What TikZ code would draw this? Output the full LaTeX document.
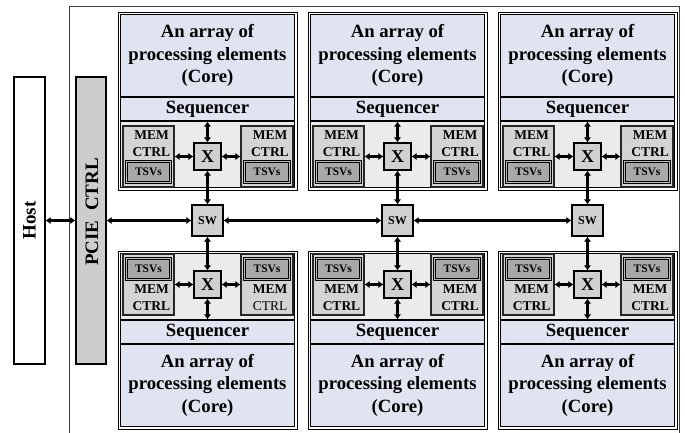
\documentclass[tikz,border=0pt]{standalone}
\usepackage{fontspec}
\setmainfont{Liberation Serif}
\usetikzlibrary{arrows.meta}
\definecolor{tilebg}{HTML}{EBEBEB}
\definecolor{coreblue}{HTML}{DFE4F0}
\definecolor{memgray}{HTML}{D4D4D4}
\definecolor{tsvgray}{HTML}{A8A8A8}
\definecolor{boxgray}{HTML}{D0D0D0}
\definecolor{pciegray}{HTML}{CDCDCD}
\tikzset{
  corebox/.style={draw=black, line width=1.2pt, fill=coreblue, minimum width=174pt,
    inner sep=0pt, align=center, font=\fontsize{18.7}{22.5}\selectfont\bfseries},
  membox/.style={draw=black!85, line width=1.1pt, fill=memgray, minimum height=61pt, inner sep=0pt},
  tsvbox/.style={draw=black, line width=0.8pt, double=gray!55, double distance=0.9pt, fill=tsvgray,
    minimum height=21pt, inner sep=0pt, font=\fontsize{11.5}{13}\selectfont\bfseries},
  memtext/.style={inner sep=0pt, align=center, font=\fontsize{13.5}{16.7}\selectfont\bfseries},
  xbox/.style={draw=black, line width=1.2pt, fill=boxgray, minimum size=27pt, inner sep=0pt,
    font=\fontsize{18}{20}\selectfont\bfseries},
  swbox/.style={draw=black, line width=1.2pt, fill=boxgray, minimum size=31pt, inner sep=0pt,
    font=\fontsize{12}{14}\selectfont\bfseries},
  sidebox/.style={draw=black, line width=1.2pt, minimum width=31pt, minimum height=287pt, inner sep=0pt},
  sidetext/.style={rotate=90, inner sep=0pt, font=\fontsize{19}{21}\selectfont\bfseries},
  bus/.style={line width=3pt, {Latex[length=5pt,width=7.5pt]}-{Latex[length=5pt,width=7.5pt]}}
}
\newcommand{\tilebody}[2]{%
  \draw[line width=0.7pt] (118,12) rectangle (297,190);
  \draw[line width=1.4pt, fill=tilebg] (120.5,14.5) rectangle (294.5,187.5);
  \node[corebox, minimum height=82.5pt] (core#1) at (207.5,55.75) {An array of\\processing elements\\(Core)};
  \node[corebox, minimum height=24pt] (seq#1) at (207.5,109) {Sequencer};
  \node[membox, minimum width=51pt] (ml#1) at (148.5,156.5) {};
  \node[tsvbox, minimum width=44pt] (tl#1) at (148.5,172) {TSVs};
  \node[memtext] (mlt#1) at (151.5,143.5) {MEM\\CTRL};
  \node[membox, minimum width=52pt] (mr#1) at (267,156.5) {};
  \node[tsvbox, minimum width=45pt] (tr#1) at (267,172) {TSVs};
  \node[memtext] (mrt#1) at (270,143.5) {#2};
  \node[xbox] (X#1) at (207.5,156.5) {X};
}
\begin{document}
\begin{tikzpicture}[x=1pt,y=-1pt]
\useasboundingbox (0,0) rectangle (685,433);
\fill[white] (0,0) rectangle (685,433);
\draw[line width=0.8pt, black!75] (69.5,433) -- (69.5,6) -- (679.5,6) -- (679.5,433);
\node[sidebox, fill=white] (host) at (29.5,220.5) {};
\node[sidetext] (hosttext) at (29.5,220.5) {Host};
\node[sidebox, fill=pciegray, minimum width=30pt] (pcie) at (91,220.5) {};
\node[sidetext] (pcietext) at (92,212) {PCIE\enspace CTRL};
\begin{scope}\tilebody{1}{MEM\\CTRL}\end{scope}
\begin{scope}[shift={(190,0)}]\tilebody{2}{MEM\\CTRL}\end{scope}
\begin{scope}[shift={(380,0)}]\tilebody{3}{MEM\\CTRL}\end{scope}
\begin{scope}[shift={(0,441)}, yscale=-1]\tilebody{4}{MEM\\{\mdseries CTRL}}\end{scope}
\begin{scope}[shift={(190,441)}, yscale=-1]\tilebody{5}{MEM\\CTRL}\end{scope}
\begin{scope}[shift={(380,441)}, yscale=-1]\tilebody{6}{MEM\\CTRL}\end{scope}
\node[swbox] (sw1) at (207.5,220.5) {SW};
\node[swbox] (sw2) at (397.5,220.5) {SW};
\node[swbox] (sw3) at (587.5,220.5) {SW};
\draw[bus] (host) -- (pcie);
\draw[bus] (pcie) -- (sw1);
\draw[bus] (sw1) -- (sw2);
\draw[bus] (sw2) -- (sw3);
\foreach \i/\s in {1/1,2/2,3/3,4/1,5/2,6/3}{
  \draw[bus] (seq\i) -- (X\i);
  \draw[bus] (ml\i) -- (X\i);
  \draw[bus] (X\i) -- (mr\i);
  \draw[bus] (X\i) -- (sw\s);
}
\end{tikzpicture}
\end{document}
